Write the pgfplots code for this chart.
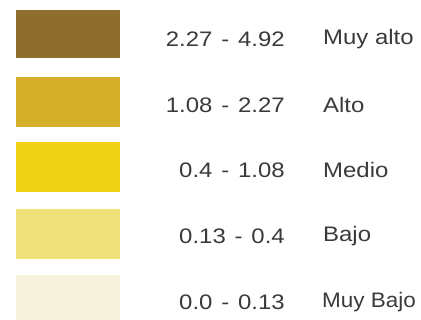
\documentclass[border=0pt]{standalone}
\usepackage{pgfplots}
\pgfplotsset{compat=1.18}
\usepackage{graphicx}
\usepackage{fontspec}
\setmainfont{Liberation Sans}
\definecolor{c1}{HTML}{8E6E2F}
\definecolor{c2}{HTML}{D6AF2A}
\definecolor{c3}{HTML}{F0D217}
\definecolor{c4}{HTML}{F0E27A}
\definecolor{c5}{HTML}{F6F3DC}
\definecolor{txt}{HTML}{3A3A3A}
\newcommand{\rg}[2]{\scalebox{1.14}[1]{#1\hspace{0.37em}-\hspace{0.37em}#2}}
\newcommand{\lb}[1]{\scalebox{1.14}[1]{#1}}
\begin{document}
\begin{tikzpicture}
\useasboundingbox (0,0) rectangle (421bp,320bp);
\clip (0,0) rectangle (421bp,320bp);
\begin{axis}[
  at={(0,0)}, anchor=south west,
  scale only axis, width=421bp, height=320bp,
  xmin=0, xmax=421, ymin=0, ymax=320,
  hide axis, clip=false,
]
\addplot[fill=c1, draw=none] coordinates {(16,262) (120,262) (120,310) (16,310)} -- cycle;
\addplot[fill=c2, draw=none] coordinates {(16,193) (120,193) (120,243) (16,243)} -- cycle;
\addplot[fill=c3, draw=none] coordinates {(16,128) (120,128) (120,178) (16,178)} -- cycle;
\addplot[fill=c4, draw=none] coordinates {(16,61) (120,61) (120,111) (16,111)} -- cycle;
\addplot[fill=c5, draw=none] coordinates {(16,-2) (120,-2) (120,45) (16,45)} -- cycle;
\begin{scope}[every node/.style={text=txt, font=\fontsize{21bp}{24bp}\selectfont, inner sep=0pt}]
\node[anchor=east] at (axis cs:285,281) {\rg{2.27}{4.92}};
\node[anchor=east] at (axis cs:285,215) {\rg{1.08}{2.27}};
\node[anchor=east] at (axis cs:285,150) {\rg{0.4}{1.08}};
\node[anchor=east] at (axis cs:285,84) {\rg{0.13}{0.4}};
\node[anchor=east] at (axis cs:285,18) {\rg{0.0}{0.13}};
\node[anchor=west] at (axis cs:323,281) {\lb{Muy alto}};
\node[anchor=west] at (axis cs:323,215) {\lb{Alto}};
\node[anchor=west] at (axis cs:323,150) {\lb{Medio}};
\node[anchor=west] at (axis cs:323,84) {\lb{Bajo}};
\node[anchor=west] at (axis cs:322,18) {\scalebox{1.07}[1]{Muy Bajo}};
\end{scope}
\end{axis}
\end{tikzpicture}
\end{document}
